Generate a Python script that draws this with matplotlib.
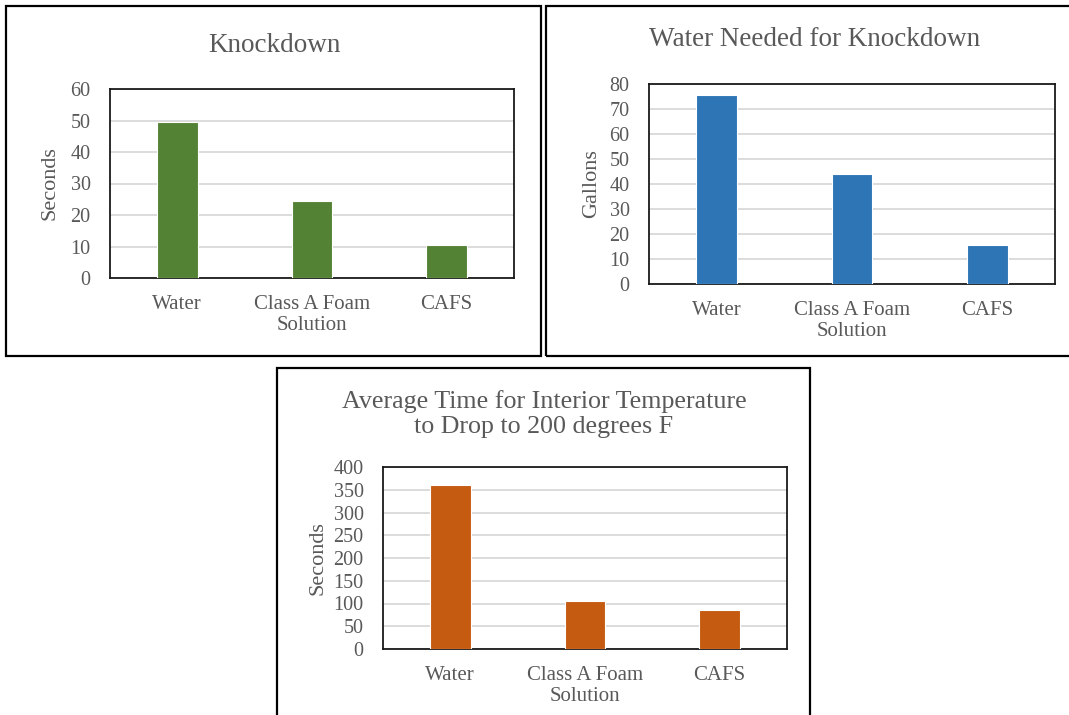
import matplotlib.pyplot as plt
from matplotlib.patches import Rectangle

plt.rcParams['font.family'] = ['Liberation Serif', 'DejaVu Serif']

W, H = 1069, 715

categories = ["Water", "Class A Foam\nSolution", "CAFS"]

knockdown_sec = [49.5, 24.5, 10.5]
water_gal = [75.5, 44, 15.5]
temp_drop_sec = [361, 105, 85]

text_gray = "#595959"


#pixel box (left, top, right, bottom) -> figure fraction rect
def px_rect(l, t, r, b):
    return [l / W, 1 - b / H, (r - l) / W, (b - t) / H]


def bar_panel(fig, box, values, color, ymax, ystep, ylabel, ylabel_x, title, title_xy, title_size=19.5):
    ax = fig.add_axes(px_rect(*box))
    x = range(len(categories))
    ax.bar(x, values, width=0.3, color=color, edgecolor="white", linewidth=0.8, zorder=3)
    ax.set_xlim(-0.5, len(categories) - 0.5)
    ax.set_ylim(0, ymax)
    ax.set_yticks(range(0, ymax + 1, ystep))
    ax.set_xticks(list(x))
    ax.set_xticklabels(categories, linespacing=1.2)
    ax.tick_params(axis="both", length=0, labelsize=14.5, labelcolor=text_gray)
    ax.tick_params(axis="x", labelsize=15, pad=12)
    ax.tick_params(axis="y", pad=14)
    ax.yaxis.grid(True, color="#d9d9d9", linewidth=1.3, zorder=0)
    for s in ax.spines.values():
        s.set_color("#1a1a1a")
        s.set_linewidth(1.3)
    mid_y = (box[1] + box[3]) / 2
    fig.text(ylabel_x / W, 1 - mid_y / H, ylabel, rotation=90, ha="center", va="center",
             fontsize=16, color=text_gray)
    fig.text(title_xy[0] / W, 1 - title_xy[1] / H, title, ha="center", va="center",
             fontsize=title_size, color=text_gray, linespacing=1.2)
    return ax


fig = plt.figure(figsize=(W / 100, H / 100), dpi=100)

#outer frames round each chart
for l, t, r, b in [(6, 6, 541, 356), (546, 6, 1075, 356), (277, 368, 810, 725)]:
    fig.patches.append(Rectangle((l / W, 1 - b / H), (r - l) / W, (b - t) / H,
                                 transform=fig.transFigure, fill=False,
                                 edgecolor="black", linewidth=1.6))

bar_panel(fig, (110, 89, 514, 278), knockdown_sec, "#548235", 60, 10,
          "Seconds", 50, "Knockdown", (274, 45))
bar_panel(fig, (649, 84, 1055, 284), water_gal, "#2e75b6", 80, 10,
          "Gallons", 592, "Water Needed for Knockdown", (815, 40))
bar_panel(fig, (383, 467, 787, 649), temp_drop_sec, "#c55a11", 400, 50,
          "Seconds", 318, "Average Time for Interior Temperature\nto Drop to 200 degrees F", (544, 414),
          title_size=18.7)

fig.savefig("out.png", dpi=100)
